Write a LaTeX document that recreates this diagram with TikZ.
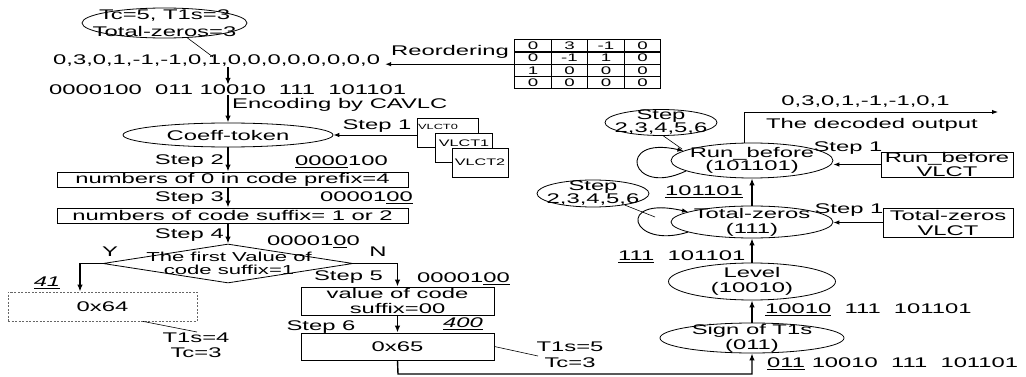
\documentclass[tikz,border=0pt]{standalone}
\usepackage{fontspec}
\setmainfont{Liberation Sans}[FakeStretch=1.7]
\usetikzlibrary{arrows.meta,shapes.geometric,matrix,calc}
\begin{document}
\begin{tikzpicture}[x=1pt,y=-1pt,
  txt/.style={inner sep=0pt, align=center, font=\fontsize{14}{15}\selectfont},
  ell/.style={draw, ellipse, inner sep=0pt, line width=0.8pt},
  boxx/.style={draw, rectangle, inner sep=0pt, line width=0.8pt, align=center, font=\fontsize{14}{15}\selectfont},
  arr/.style={-{Latex[length=7pt,width=5.5pt]}, line width=1.4pt},
  sarr/.style={-{Latex[length=6pt,width=4.5pt]}, line width=0.9pt},
  thinl/.style={line width=0.6pt},
]
\useasboundingbox (0,0) rectangle (1026,377);

% ---------- top ----------
\node[ell, minimum width=165pt, minimum height=30pt] (e0) at (164.5,23) {};
\node[txt, font=\fontsize{14}{17}\selectfont] (e0t) at (e0) {Tc=5, T1s=3\\Total-zeros=3};
\node[txt, anchor=west] (seq) at (53,61) {0,3,0,1,-1,-1,0,1,0,0,0,0,0,0,0,0};
\coordinate (c1) at (213,57);

\matrix[matrix of nodes, anchor=north west, inner sep=0pt, column sep=-1.2pt, row sep=-1.2pt,
  nodes={draw, line width=1.2pt, outer sep=0pt, minimum width=36.5pt, minimum height=12.2pt,
  inner sep=0pt, font=\fontsize{11}{11}\selectfont, anchor=center}] (mat) at (514,39)
  { 0 & 3 & -1 & 0\\ 0 & -1 & 1 & 0\\ 1 & 0 & 0 & 0\\ 0 & 0 & 0 & 0\\};
\node[txt] (reo) at (450,52) {Reordering};

\node[txt, anchor=west] (bits) at (49,90) {0000100~~011 10010~~111~~101101};
\node[txt, anchor=west] (enc) at (232,105) {Encoding by CAVLC};

% ---------- left flow ----------
\node[ell, minimum width=210pt, minimum height=24pt] (e1) at (228,135) {};
\node[txt] (e1t) at (e1) {Coeff-token};

\node[boxx, fill=white, minimum width=61pt, minimum height=29pt] (v0) at (447.5,132.5) {};
\node[txt, font=\fontsize{7.5}{8}\selectfont] (v0t) at (438,127) {VLCT0};
\node[boxx, fill=white, minimum width=57pt, minimum height=29pt] (v1) at (463.5,147.5) {};
\node[txt, font=\fontsize{9.5}{10}\selectfont] (v1t) at (464,143) {VLCT1};
\node[boxx, fill=white, minimum width=56pt, minimum height=29pt] (v2) at (480,162.5) {};
\node[txt, font=\fontsize{9.5}{10}\selectfont] (v2t) at (480,162.5) {VLCT2};
\node[txt] (s1) at (377,126) {Step 1};

\node[boxx, minimum width=351pt, minimum height=15pt] (b1) at (232.5,179.5) {numbers of 0 in code prefix=4};
\node[txt, anchor=east] (st2) at (224,161) {Step 2};
\node[txt, anchor=west] (c2) at (295,162) {\underline{0000}100};

\node[boxx, minimum width=351pt, minimum height=15pt] (b2) at (232.5,215.5) {numbers of code suffix= 1 or 2};
\node[txt, anchor=east] (st3) at (224,198) {Step 3};
\node[txt, anchor=west] (c3) at (320,198) {00001\underline{00}};

\node[draw, diamond, minimum width=250pt, minimum height=39pt, inner sep=0pt, line width=0.8pt] (dm) at (228,263.5) {};
\node[txt, font=\fontsize{13}{13}\selectfont] (dmt) at (229,263.5) {The first Value of\\code suffix=1};
\node[txt, anchor=east] (st4) at (224,235) {Step 4};
\node[txt, anchor=west] (c4) at (267,242) {00001\underline{0}0};
\node[txt] (ly) at (110,252) {Y};
\node[txt] (ln) at (378,252) {N};

\node[draw=black!60, dash pattern=on 2pt off 1.5pt, line width=0.8pt, minimum width=189pt, minimum height=29pt,
  inner sep=0pt, font=\fontsize{14}{15}\selectfont] (b64) at (102.5,306.5) {0x64};
\node[txt] (l41) at (47,283) {\textit{\underline{41}}};
\coordinate (c64) at (197,332);
\node[txt] (t64) at (196,345.5) {T1s=4\\Tc=3};

\node[boxx, minimum width=193pt, minimum height=28pt] (b5) at (397.5,301) {value of code\\suffix=00};
\node[txt] (st5) at (348.5,277) {Step 5};
\node[txt, anchor=west] (c5) at (417,279) {00001\underline{00}};

\node[boxx, minimum width=193pt, minimum height=27pt] (b6) at (397.5,346.5) {0x65};
\node[txt] (st6) at (321,327) {Step 6};
\node[txt] (l400) at (463,324) {\textit{\underline{400}}};
\coordinate (c65) at (538,356);
\node[txt, font=\fontsize{14}{16}\selectfont] (t65) at (570,355) {T1s=5\\Tc=3};
\coordinate (bl) at (398,374);

% ---------- right flow ----------
\node[ell, minimum width=184pt, minimum height=30pt] (sg) at (752,338) {};
\node[txt] (sgt) at (sg) {Sign of T1s\\(011)};
\node[ell, minimum width=167pt, minimum height=37pt] (lv) at (752,281.5) {};
\node[txt] (lvt) at (lv) {Level\\(10010)};
\node[ell, minimum width=162pt, minimum height=32pt] (tz) at (752,222) {};
\node[txt] (tzt) at (tz) {Total-zeros\\(111)};
\node[ell, minimum width=162pt, minimum height=35pt] (rb) at (752,160.5) {};
\node[txt, font=\fontsize{14}{13}\selectfont] (rbt) at (rb) {Run\_before\\(101101)};

\node[txt, anchor=west] (cb) at (767,364) {\underline{011} 10010~~111~~101101};
\node[txt, anchor=west] (csg) at (765,310) {\underline{10010}~~111~~101101};
\node[txt, anchor=west] (clv) at (618,257) {\underline{111}~~101101};
\node[txt] (ctz) at (704,192) {\underline{101101}};

\coordinate (out) at (998,112);
\node[txt] (o1) at (865.5,102) {0,3,0,1,-1,-1,0,1};
\node[txt] (o2) at (872,125) {The decoded output};

\node[boxx, minimum width=132pt, minimum height=25pt, font=\fontsize{14}{14}\selectfont] (rbv) at (947,164.5) {Run\_before\\VLCT};
\node[txt] (s1a) at (848,148) {Step 1};
\node[boxx, minimum width=130pt, minimum height=29pt] (tzv) at (948,222.5) {Total-zeros\\VLCT};
\node[txt] (s1b) at (849,210) {Step 1};

\node[ell, minimum width=112pt, minimum height=26pt] (sA) at (661,122.5) {};
\node[txt, font=\fontsize{14}{13}\selectfont] (sAt) at (sA) {Step\\2,3,4,5,6};
\node[ell, minimum width=112pt, minimum height=27pt] (sB) at (593,193.5) {};
\node[txt, font=\fontsize{14}{13}\selectfont] (sBt) at (sB) {Step\\2,3,4,5,6};
\coordinate (ca) at (682,149);
\coordinate (cbb) at (655,217);

% ---------- connectors ----------
\draw[thinl] (e0.-33) -- (c1);
\draw[sarr] (mat.west) -- ([xshift=5pt]mat.west -| seq.east);
\draw[arr] (seq.south -| e1.north) -- (bits.north -| e1.north);
\draw[arr] (bits.south -| e1.north) -- (e1.north);
\draw[sarr] (v0.west |- e1.east) -- (e1.east);
\draw[arr] (e1.south) -- (b1.north -| e1.south);
\draw[arr] (b1.south -| e1.south) -- (b2.north -| e1.south);
\draw[arr] (b2.south -| e1.south) -- (dm.north);
\draw[arr] (dm.west) -| ([xshift=-22.5pt]b64.north);
\draw[arr] (dm.east) -| (b5.north);
\draw[thinl] ([xshift=40.5pt]b64.south) -- (c64);
\draw[arr] (b5.south) -- (b6.north);
\draw[thinl] (b6.east) -- (c65);
\draw[arr] (b6.south) -- (bl) -| (sg.south);

\draw[arr] (sg.north) -- (lv.south);
\draw[arr] (lv.north) -- (tz.south);
\draw[arr] (tz.north) -- (rb.south);
\draw[sarr] ([xshift=-8pt]rb.north) |- (out);
\draw[sarr] (rbv.west) -- (rbv.west -| rb.east);
\draw[sarr] (tzv.west) -- (tzv.west -| tz.east);

\draw[sarr] (rb.189) .. controls (630,198) and (615,135) .. (rb.172);
\draw[sarr] (tz.189) .. controls (630,250) and (615,195) .. (tz.171);
\draw[thinl] (sA.-80) -- (ca);
\draw[thinl] (sB.-20) -- (cbb);
\end{tikzpicture}
\end{document}
